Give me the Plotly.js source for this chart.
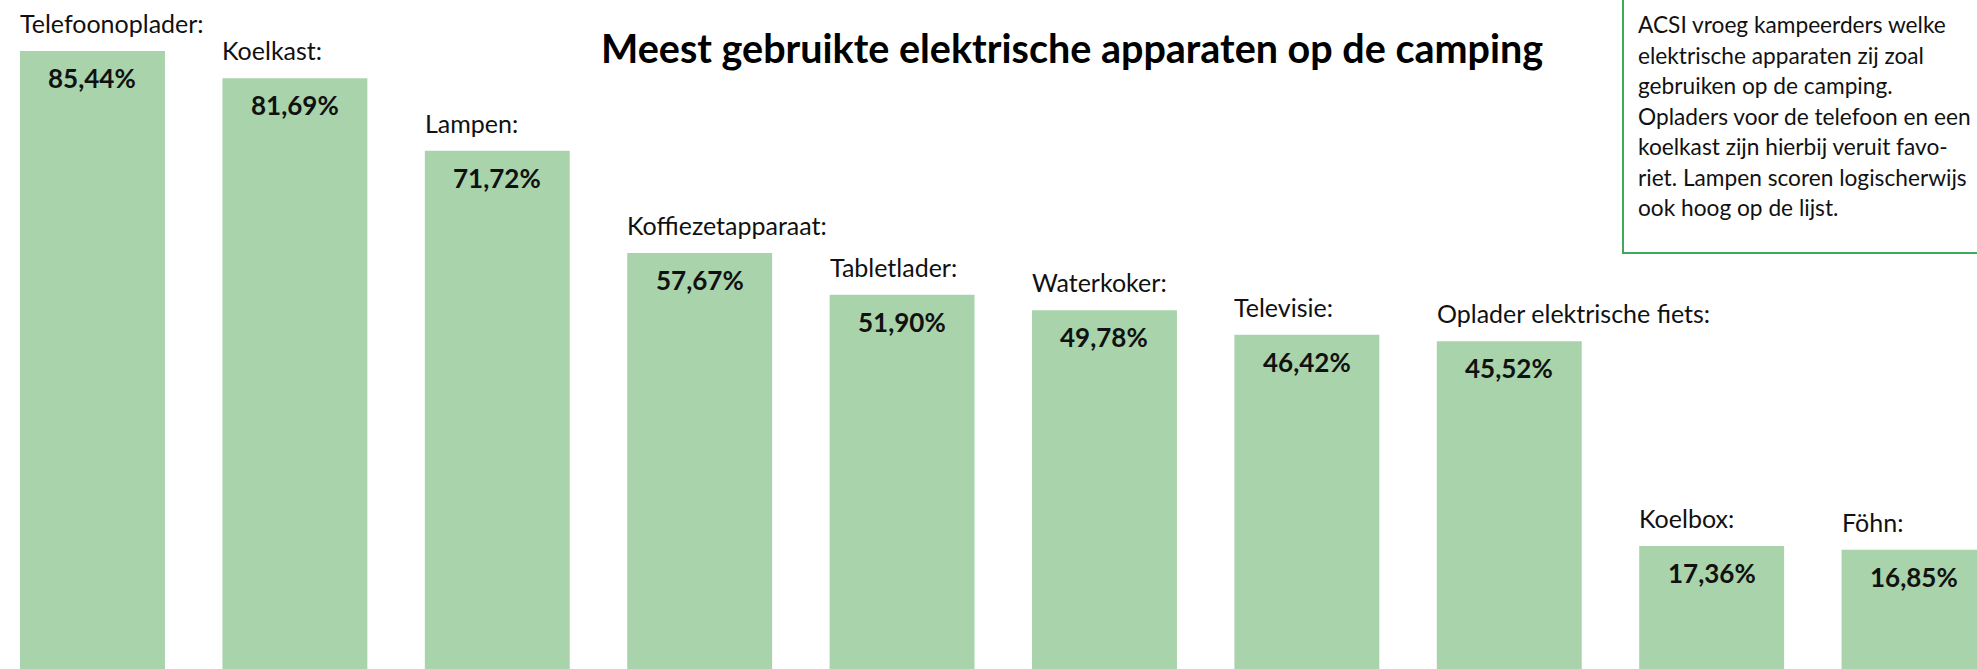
<!DOCTYPE html>
<html>
<head>
<meta charset="utf-8">
<script src="https://cdn.plot.ly/plotly-3.0.1.min.js"></script>
<style>
  html, body { margin: 0; padding: 0; background: #fff; }
  #chart { width: 1977px; height: 669px; }
</style>
</head>
<body>
<div id="chart"></div>
<script>
// apparaten en percentages (ACSI enquête)
const categories = ['Telefoonoplader', 'Koelkast', 'Lampen', 'Koffiezetapparaat', 'Tabletlader',
                    'Waterkoker', 'Televisie', 'Oplader elektrische fiets', 'Koelbox', 'Föhn'];
const values = [85.44, 81.69, 71.72, 57.67, 51.90, 49.78, 46.42, 45.52, 17.36, 16.85];

const chartTitle = 'Meest gebruikte elektrische apparaten op de camping';
const boxLines = [
  'ACSI vroeg kampeerders welke',
  'elektrische apparaten zij zoal',
  'gebruiken op de camping.',
  'Opladers voor de telefoon en een',
  'koelkast zijn hierbij veruit favo-',
  'riet. Lampen scoren logischerwijs',
  'ook hoog op de lijst.'
];

const BAR_COLOR = '#a8d3ab';
const BOX_GREEN = '#3caa5a';
const FONT = 'Lato, "Open Sans", sans-serif';
const BAR_W = 0.716;
const H = 669, W = 1977;

const xs = categories.map((_, i) => i);
const fmt = v => v.toFixed(2).replace('.', ',') + '%';

const annotations = [];
categories.forEach((c, i) => {
  // naam boven de balk, links uitgelijnd op de balkrand
  annotations.push({
    x: i - BAR_W / 2, y: values[i], xref: 'x', yref: 'y',
    text: c + ':', showarrow: false, xanchor: 'left', yanchor: 'middle',
    xshift: -2, yshift: 28, font: { family: FONT, size: 25, color: '#111' }
  });
  // percentage in de balk
  annotations.push({
    x: i, y: values[i], xref: 'x', yref: 'y',
    text: '<b>' + fmt(values[i]) + '</b>', showarrow: false, xanchor: 'center', yanchor: 'middle',
    yshift: -27, font: { family: FONT, size: 26, color: '#111' }
  });
});

annotations.push({
  x: 1072 / W, y: 1 - 48 / H, xref: 'paper', yref: 'paper',
  text: '<b>' + chartTitle + '</b>', showarrow: false, xanchor: 'center', yanchor: 'middle',
  font: { family: FONT, size: 39.5, color: '#000' }
});

// tekstblok rechtsboven, regel voor regel
boxLines.forEach((line, k) => {
  annotations.push({
    x: 1636 / W, y: 1 - (25 + k * 30.5) / H, xref: 'paper', yref: 'paper',
    text: line, showarrow: false, xanchor: 'left', yanchor: 'middle', align: 'left',
    font: { family: FONT, size: 22.7, color: '#111' }
  });
});

Plotly.newPlot('chart', [{
  type: 'bar', x: xs, y: values, width: BAR_W,
  marker: { color: BAR_COLOR, line: { width: 0 } },
  hoverinfo: 'none'
}], {
  width: W, height: H, autosize: false,
  margin: { t: 0, b: 0, l: 0, r: 0, pad: 0 },
  paper_bgcolor: '#fff', plot_bgcolor: '#fff',
  showlegend: false,
  xaxis: { visible: false, range: [-0.457, 9.311], fixedrange: true },
  yaxis: { visible: false, range: [0.44, 92.45], fixedrange: true },
  shapes: [{
    type: 'rect', xref: 'paper', yref: 'paper',
    x0: 1623 / W, x1: 1.02, y0: 1 - 253 / H, y1: 1.05,
    line: { color: BOX_GREEN, width: 2 }, fillcolor: 'rgba(0,0,0,0)'
  }],
  annotations
}, { staticPlot: true, displayModeBar: false });
</script>
</body>
</html>
